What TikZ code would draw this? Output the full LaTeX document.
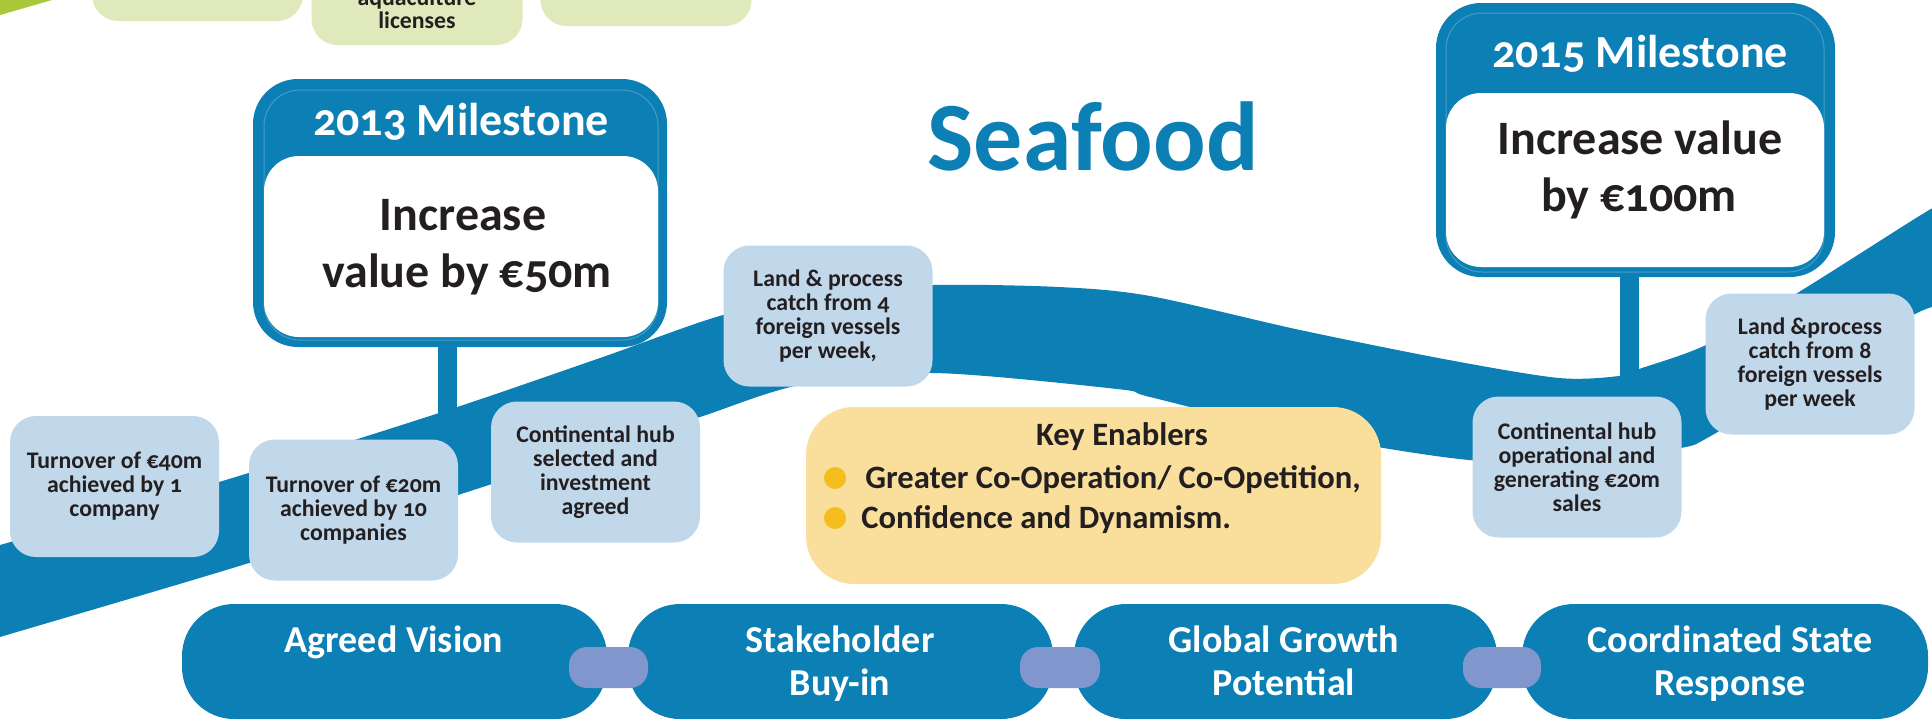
\documentclass[tikz,border=0pt]{standalone}
\usepackage{fontspec}
\setmainfont{Carlito}[Numbers=OldStyle]
\definecolor{sfblue}{RGB}{12,127,180}
\definecolor{sfline}{RGB}{70,155,200}
\definecolor{lightbox}{RGB}{193,215,234}
\definecolor{keyfill}{RGB}{249,222,156}
\definecolor{dotc}{RGB}{244,191,30}
\definecolor{linkc}{RGB}{128,150,204}
\definecolor{greenfill}{RGB}{223,233,188}
\definecolor{wedgec}{RGB}{168,200,57}
\definecolor{ink}{RGB}{35,31,32}
\tikzset{
  smallbox/.style={fill=lightbox, rounded corners=13pt, minimum width=104.5pt, minimum height=70.5pt, inner sep=0pt, align=center, text=ink, font=\bfseries\fontsize{11.9}{12}\selectfont},
  greenbox/.style={fill=greenfill, rounded corners=13pt, minimum width=105.5pt, minimum height=70.5pt, inner sep=0pt},
  gtext/.style={anchor=base, text=ink, inner sep=0pt, font=\bfseries\fontsize{11.9}{12}\selectfont},
  msouter/.style={fill=sfblue, rounded corners=22.5pt, inner sep=0pt},
  msline/.style={draw=sfline, line width=0.5pt, rounded corners=18pt, inner sep=0pt},
  msinner/.style={fill=white, rounded corners=17.5pt, inner sep=0pt},
  mshead/.style={anchor=base, text=white, inner sep=0pt, font=\bfseries\fontsize{23}{27}\selectfont},
  msbody/.style={anchor=base, text=ink, inner sep=0pt, font=\bfseries\fontsize{24}{28}\selectfont},
  stemline/.style={draw=sfblue, line width=9.5pt},
  keybox/.style={fill=keyfill, rounded corners=24pt, minimum width=287.5pt, minimum height=88.5pt, inner sep=0pt},
  keytext/.style={text=ink, inner sep=0pt, font=\bfseries\fontsize{16.3}{19}\selectfont},
  bulletdot/.style={circle, fill=dotc, minimum size=11pt, inner sep=0pt},
  pill/.style={fill=sfblue, rounded corners=26pt, minimum height=57.5pt, inner sep=0pt},
  pilltext/.style={anchor=base, text=white, inner sep=0pt, font=\bfseries\fontsize{19}{22}\selectfont},
  pilllink/.style={fill=linkc, rounded corners=9pt, minimum height=20.5pt, inner sep=0pt},
}
\begin{document}
\begin{tikzpicture}[x=0.5pt,y=-0.5pt]
\useasboundingbox (0,0) rectangle (1932,725);
\clip (0,0) rectangle (1932,725);
% top-left wedge and cut-off green boxes
\fill[wedgec] (0,0) -- (52,0) -- (0,15) -- cycle;
\node[greenbox] (g1) at (197.5,-49.5) {};
\node[greenbox] (g2) at (417,-25.5) {};
\node[greenbox] (g3) at (646,-44.5) {};
\node[gtext] (g2a) at (417,5) {aquaculture};
\node[gtext] (g2b) at (417,28) {licenses};
% the wave band
\fill[sfblue] plot[smooth] coordinates {(-5,547) (0,545) (219,482) (439,413) (600,358) (723,315) (830,293) (933,285) (1059,287) (1150,296) (1300,330) (1449,360) (1559,378) (1619,376) (1639,369) (1706,345) (1794,295) (1916,218) (1945,201)}
  -- plot[smooth] coordinates {(1945,305) (1915,314) (1810,376) (1709,437) (1681,448) (1600,461) (1469,460) (1300,433) (1150,397) (1117,389) (933,373) (800,385) (700,417) (600,449) (458,495) (249,563) (0,637) (-5,639)}
  -- cycle;
% 2013 milestone
\node[msouter, minimum width=207pt, minimum height=134pt] (m13) at (460,213) {};
\node[msline, minimum width=197pt, minimum height=125pt] (m13l) at (461,215) {};
\node[msinner, minimum width=197pt, minimum height=90.5pt] (m13in) at (461,246.5) {};
\node[mshead] (m13h) at (461,135) {2013 Milestone};
\node[msbody] (m13a) at (463,230) {Increase};
\node[msbody] (m13b) at (467,287) {value by €50m};
\coordinate (s13) at (447.5,425);
\draw[stemline] (s13 |- m13.south) -- (s13);
% 2015 milestone
\node[msouter, minimum width=199.5pt, minimum height=137pt] (m15) at (1635.5,140) {};
\node[msline, minimum width=189pt, minimum height=129.5pt] (m15l) at (1635,142.5) {};
\node[msinner, minimum width=189pt, minimum height=87pt] (m15in) at (1635,180) {};
\node[mshead] (m15h) at (1640,67) {2015 Milestone};
\node[msbody] (m15a) at (1640,154) {Increase value};
\node[msbody] (m15b) at (1639,211) {by €100m};
\coordinate (s15) at (1629.5,385);
\draw[stemline] (s15 |- m15.south) -- (s15);
% title
\node[anchor=base, text=sfblue, inner sep=0pt, font=\bfseries\fontsize{49}{55}\selectfont] (title) at (1093,170) {Seafood};
% small milestone boxes
\node[smallbox] (b40) at (114.5,486.5) {Turnover of €40m\\achieved by 1\\company};
\node[smallbox] (b20) at (353.5,510) {Turnover of €20m\\achieved by 10\\companies};
\node[smallbox] (hubsel) at (595.5,472) {Continental hub\\selected and\\investment\\agreed};
\node[smallbox] (land4) at (828,316) {Land \& process\\catch from 4\\foreign vessels\\per week,};
\node[smallbox] (hubop) at (1577,467) {Continental hub\\operational and\\generating €20m\\sales};
\node[smallbox] (land8) at (1810,364) {Land \&process\\catch from 8\\foreign vessels\\per week};
% key enablers
\node[keybox] (key) at (1093.5,495.5) {};
\node[keytext, anchor=base] (keyt) at (1122,445) {Key Enablers};
\node[bulletdot] (d1) at (835,478) {};
\node[bulletdot] (d2) at (835,518) {};
\node[keytext, anchor=base west] (k1) at (865,488) {Greater Co-Operation/ Co-Opetition,};
\node[keytext, anchor=base west] (k2) at (861,528) {Confidence and Dynamism.};
% bottom pills
\node[pill, minimum width=212.5pt] (p1) at (394.5,661.5) {};
\node[pill, minimum width=212.5pt] (p2) at (840.5,661.5) {};
\node[pill, minimum width=211.5pt] (p3) at (1285.5,661.5) {};
\node[pill, minimum width=203pt] (p4) at (1725,661.5) {};
\node[pilllink, minimum width=39.5pt] (c1) at (608.5,667.5) {};
\node[pilllink, minimum width=40pt] (c2) at (1060,667.5) {};
\node[pilllink, minimum width=39pt] (c3) at (1502,667.5) {};
\node[pilltext] (p1a) at (394,652) {Agreed Vision};
\node[pilltext] (p2a) at (840,652) {Stakeholder};
\node[pilltext] (p2b) at (840,695) {Buy-in};
\node[pilltext] (p3a) at (1284,652) {Global Growth};
\node[pilltext] (p3b) at (1284,695) {Potential};
\node[pilltext] (p4a) at (1730,652) {Coordinated State};
\node[pilltext] (p4b) at (1730,695) {Response};
\end{tikzpicture}
\end{document}
